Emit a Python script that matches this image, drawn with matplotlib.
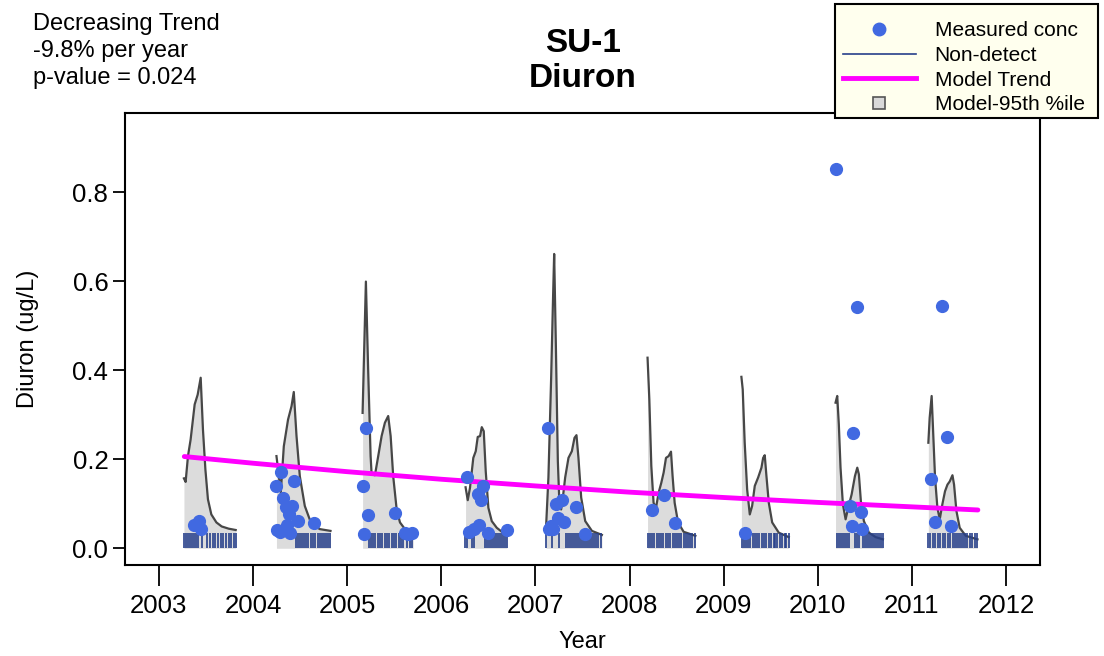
import matplotlib
matplotlib.use("Agg")
import matplotlib.pyplot as plt
from matplotlib.lines import Line2D
from matplotlib.patches import Rectangle

plt.rcParams['font.family'] = ['Liberation Sans', 'DejaVu Sans']

# Measured concentrations (decimal year, ug/L)
meas_years = [2003.369, 2003.423, 2003.444,
              2004.302, 2004.245, 2004.436, 2004.323, 2004.345, 2004.419, 2004.383,
              2004.479, 2004.649, 2004.260, 2004.287, 2004.366, 2004.398,
              2005.202, 2005.164, 2005.223, 2005.511, 2005.181, 2005.614, 2005.685, 2005.649,
              2006.273, 2006.447, 2006.387, 2006.426, 2006.298, 2006.348, 2006.404,
              2006.500, 2006.699,
              2007.138, 2007.281, 2007.217, 2007.426, 2007.164, 2007.185, 2007.238,
              2007.305, 2007.526, 2007.149,
              2008.234, 2008.366, 2008.479,
              2009.223,
              2010.188, 2010.419, 2010.376, 2010.337, 2010.454, 2010.362, 2010.472,
              2011.316, 2011.202, 2011.377, 2011.241, 2011.415]
meas_vals = [0.052, 0.061, 0.044,
             0.171, 0.140, 0.150, 0.112, 0.093, 0.094, 0.076,
             0.062, 0.056, 0.041, 0.037, 0.052, 0.034,
             0.270, 0.139, 0.075, 0.080, 0.032, 0.035, 0.034, 0.033,
             0.160, 0.139, 0.121, 0.108, 0.037, 0.043, 0.052,
             0.034, 0.040,
             0.270, 0.109, 0.099, 0.093, 0.049, 0.043, 0.067,
             0.058, 0.033, 0.043,
             0.086, 0.119, 0.057,
             0.035,
             0.852, 0.541, 0.259, 0.096, 0.081, 0.049, 0.043,
             0.544, 0.155, 0.249, 0.058, 0.049]

# Non-detect sample dates
nondetect_years = [
    2003.263, 2003.284, 2003.305, 2003.327, 2003.348, 2003.374, 2003.395, 2003.416,
    2003.460, 2003.507, 2003.539, 2003.571, 2003.598, 2003.624, 2003.656, 2003.683,
    2003.710, 2003.741, 2003.768, 2003.795, 2003.821,
    2004.454, 2004.476, 2004.497, 2004.518, 2004.539, 2004.561, 2004.582, 2004.614,
    2004.635, 2004.656, 2004.688, 2004.710, 2004.731, 2004.752, 2004.773, 2004.795,
    2004.821,
    2005.236, 2005.257, 2005.279, 2005.300, 2005.327, 2005.348, 2005.374, 2005.401,
    2005.422, 2005.449, 2005.475, 2005.497, 2005.523, 2005.550, 2005.577, 2005.598,
    2005.640, 2005.667, 2005.694,
    2006.257, 2006.273, 2006.327, 2006.343, 2006.460, 2006.481, 2006.502, 2006.523,
    2006.545, 2006.566, 2006.587, 2006.608, 2006.630, 2006.651, 2006.672, 2006.694,
    2007.111, 2007.174, 2007.252, 2007.321, 2007.343, 2007.364, 2007.390, 2007.412,
    2007.433, 2007.454, 2007.476, 2007.497, 2007.518, 2007.539, 2007.561, 2007.582,
    2007.603, 2007.624, 2007.646, 2007.667, 2007.694,
    2008.194, 2008.215, 2008.241, 2008.263, 2008.289, 2008.316, 2008.337, 2008.358,
    2008.385, 2008.412, 2008.433, 2008.459, 2008.486, 2008.507, 2008.529, 2008.550,
    2008.577, 2008.603, 2008.624, 2008.646, 2008.667, 2008.694,
    2009.194, 2009.215, 2009.241, 2009.263, 2009.284, 2009.311, 2009.337, 2009.358,
    2009.380, 2009.406, 2009.433, 2009.454, 2009.476, 2009.502, 2009.529, 2009.550,
    2009.571, 2009.598, 2009.624, 2009.646, 2009.667, 2009.694,
    2010.199, 2010.220, 2010.241, 2010.263, 2010.284, 2010.305, 2010.327, 2010.390,
    2010.417, 2010.438, 2010.476, 2010.497, 2010.518, 2010.539, 2010.561, 2010.582,
    2010.603, 2010.624, 2010.646, 2010.667, 2010.688,
    2011.167, 2011.194, 2011.220, 2011.247, 2011.273, 2011.300, 2011.326, 2011.353,
    2011.380, 2011.406, 2011.433, 2011.454, 2011.476, 2011.497, 2011.518, 2011.539,
    2011.561, 2011.587, 2011.614, 2011.640, 2011.667, 2011.694]

# Model 95th percentile, one list per season
p95_years = [
    [2003.266, 2003.284, 2003.309, 2003.337, 2003.380, 2003.412, 2003.444, 2003.468,
     2003.494, 2003.521, 2003.557, 2003.611, 2003.667, 2003.741, 2003.816],
    [2004.249, 2004.295, 2004.327, 2004.372, 2004.409, 2004.433, 2004.462, 2004.497,
     2004.550, 2004.621, 2004.710, 2004.823],
    [2005.164, 2005.199, 2005.223, 2005.249, 2005.260, 2005.295, 2005.330, 2005.366,
     2005.401, 2005.436, 2005.462, 2005.489, 2005.526, 2005.561, 2005.614, 2005.702],
    [2006.258, 2006.281, 2006.305, 2006.340, 2006.366, 2006.387, 2006.412, 2006.430,
     2006.451, 2006.472, 2006.500, 2006.536, 2006.589, 2006.643, 2006.696],
    [2007.111, 2007.138, 2007.167, 2007.188, 2007.199, 2007.217, 2007.238, 2007.255,
     2007.273, 2007.287, 2007.316, 2007.351, 2007.387, 2007.415, 2007.436, 2007.457,
     2007.486, 2007.529, 2007.600, 2007.706],
    [2008.191, 2008.210, 2008.231, 2008.255, 2008.281, 2008.309, 2008.337, 2008.362,
     2008.387, 2008.415, 2008.440, 2008.457, 2008.479, 2008.515, 2008.574, 2008.699],
    [2009.188, 2009.202, 2009.223, 2009.249, 2009.277, 2009.302, 2009.330, 2009.366,
     2009.401, 2009.419, 2009.436, 2009.454, 2009.479, 2009.515, 2009.585, 2009.691],
    [2010.188, 2010.206, 2010.223, 2010.241, 2010.266, 2010.295, 2010.323, 2010.359,
     2010.394, 2010.419, 2010.436, 2010.457, 2010.489, 2010.543, 2010.614, 2010.691],
    [2011.174, 2011.188, 2011.209, 2011.223, 2011.245, 2011.270, 2011.295, 2011.323,
     2011.351, 2011.377, 2011.401, 2011.430, 2011.447, 2011.472, 2011.507, 2011.571,
     2011.696]]
p95_vals = [
    [0.157, 0.149, 0.207, 0.244, 0.323, 0.345, 0.383, 0.267, 0.177, 0.110, 0.076,
     0.058, 0.049, 0.044, 0.041],
    [0.207, 0.126, 0.229, 0.289, 0.319, 0.351, 0.252, 0.162, 0.095, 0.054, 0.043, 0.039],
    [0.304, 0.599, 0.401, 0.207, 0.166, 0.164, 0.207, 0.252, 0.282, 0.297, 0.252,
     0.162, 0.087, 0.058, 0.043, 0.035],
    [0.137, 0.108, 0.136, 0.203, 0.218, 0.250, 0.252, 0.272, 0.263, 0.173, 0.091,
     0.061, 0.046, 0.037, 0.034],
    [0.039, 0.159, 0.383, 0.570, 0.661, 0.457, 0.196, 0.099, 0.087, 0.106, 0.159,
     0.203, 0.218, 0.248, 0.254, 0.203, 0.114, 0.061, 0.039, 0.030],
    [0.428, 0.334, 0.185, 0.102, 0.091, 0.125, 0.147, 0.170, 0.203, 0.207, 0.217,
     0.162, 0.102, 0.058, 0.037, 0.028],
    [0.385, 0.357, 0.237, 0.132, 0.076, 0.095, 0.140, 0.159, 0.181, 0.203, 0.209,
     0.162, 0.102, 0.058, 0.035, 0.025],
    [0.327, 0.342, 0.278, 0.181, 0.099, 0.065, 0.091, 0.121, 0.162, 0.181, 0.166,
     0.106, 0.061, 0.035, 0.025, 0.020],
    [0.237, 0.293, 0.342, 0.271, 0.159, 0.091, 0.065, 0.099, 0.128, 0.143, 0.150,
     0.164, 0.143, 0.084, 0.046, 0.028, 0.020]]

# Model trend
trend_years = [2003.27, 2004.0, 2005.0, 2006.0, 2007.0, 2008.0, 2009.0, 2010.0, 2011.0, 2011.70]
trend_vals = [0.206, 0.191, 0.172, 0.155, 0.140, 0.126, 0.114, 0.103, 0.093, 0.086]

x_ticks = [2003, 2004, 2005, 2006, 2007, 2008, 2009, 2010, 2011, 2012]
y_ticks = [0.0, 0.2, 0.4, 0.6, 0.8]

fill_col = '#DCDCDC'
curve_col = '#474747'
nd_col = '#27408B'
pt_col = '#4169E1'

fig = plt.figure(figsize=(11.04, 6.56), dpi=100)
ax = fig.add_axes([125 / 1104, 1 - 565 / 656, 915 / 1104, 452 / 656])

for xs, ys in zip(p95_years, p95_vals):
    ax.fill_between(xs, 0, ys, color=fill_col, lw=0, zorder=1)
    ax.plot(xs, ys, color=curve_col, lw=1.6, zorder=2)

ax.vlines(nondetect_years, 0, 0.035, color=nd_col, lw=1.2, zorder=3)
ax.plot(trend_years, trend_vals, color='magenta', lw=3.5, zorder=4, solid_capstyle='round')
ax.plot(meas_years, meas_vals, 'o', color=pt_col, ms=8.5, mec=pt_col, zorder=5)

ax.set_xlim(2002.64, 2012.36)
ax.set_ylim(-0.0376, 0.9776)
ax.set_xticks(x_ticks)
ax.set_yticks(y_ticks)
ax.set_yticklabels(['0.0', '0.2', '0.4', '0.6', '0.8'])
ax.tick_params(axis='x', direction='out', length=15, width=1.3, labelsize=18.5, pad=6)
ax.tick_params(axis='y', direction='out', length=9, width=1.3, labelsize=18.5, pad=3)
for s in ax.spines.values():
    s.set_linewidth(1.5)

ax.set_xlabel('Year', fontsize=17, labelpad=9)
ax.set_ylabel('Diuron (ug/L)', fontsize=17, labelpad=24)

fig.text(0.528, 0.958, 'SU-1\nDiuron', ha='center', va='top', fontsize=24,
         fontweight='bold', linespacing=1.2)
fig.text(0.030, 0.980, 'Decreasing Trend\n-9.8% per year\np-value = 0.024',
         ha='left', va='top', fontsize=17, linespacing=1.3)

# legend box drawn separately, R places the entries a little low in it
fig.patches.append(Rectangle((835 / 1104, 1 - 118 / 656), 263 / 1104, 114 / 656,
                             transform=fig.transFigure, facecolor='#FFFFEE',
                             edgecolor='black', lw=1.5, zorder=1))
handles = [
    Line2D([], [], marker='o', ls='none', color=pt_col, ms=9),
    Line2D([], [], color=nd_col, lw=1.2),
    Line2D([], [], color='magenta', lw=3.5),
    Line2D([], [], marker='s', ls='none', mfc='#D9D9D9', mec='#555555', ms=9, mew=1.2),
]
labels = ['Measured conc', 'Non-detect', 'Model Trend', 'Model-95th %ile']
leg = fig.legend(handles, labels, loc='upper left', bbox_to_anchor=(843 / 1104, 1 - 21 / 656),
                 fontsize=15, frameon=False, labelspacing=0.28,
                 handlelength=3.5, handletextpad=0.9, borderpad=0, borderaxespad=0)

fig.savefig('out.png', dpi=100)
